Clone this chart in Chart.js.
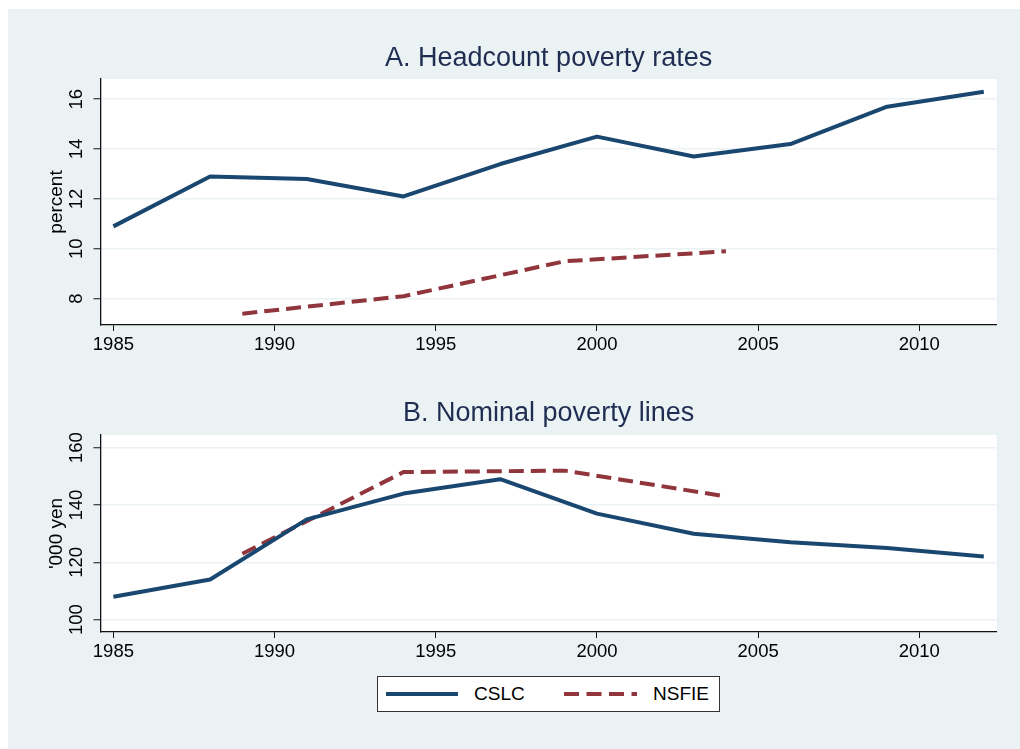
<!DOCTYPE html>
<html>
<head>
<meta charset="utf-8">
<script src="https://cdn.jsdelivr.net/npm/chart.js@4/dist/chart.umd.min.js"></script>
<style>
  body { margin: 0; background: #fff; font-family: "Liberation Sans", Arial, sans-serif; }
  #frame { position: absolute; left: 8px; top: 9px; right: 0; bottom: 0; background: #eaf2f3; }
  canvas { position: absolute; left: 0; }
  #chartA { top: 0; }
  #chartB { top: 370px; }
  #legend { position: absolute; left: 377px; top: 676px; width: 341px; height: 34px;
            background: #fff; border: 1px solid #333; }
  #legend .txt { position: absolute; top: 6px; font-size: 19px; color: #000; line-height: 22px; }
  #legend svg { position: absolute; left: 0; top: 0; }
</style>
</head>
<body>
<div id="frame"></div>
<canvas id="chartA" width="1020" height="365"></canvas>
<canvas id="chartB" width="1020" height="302"></canvas>
<div id="legend">
  <svg width="341" height="34">
    <line x1="8" y1="17" x2="80" y2="17" stroke="#1a476f" stroke-width="4"/>
    <line x1="186" y1="17" x2="259" y2="17" stroke="#90353b" stroke-width="4" stroke-dasharray="15 7.5"/>
  </svg>
  <span class="txt" style="left:96px">CSLC</span>
  <span class="txt" style="left:275px">NSFIE</span>
</div>
<script>
// survey years
const cslcYears = [1985, 1988, 1991, 1994, 1997, 2000, 2003, 2006, 2009, 2012];
const nsfieYears = [1989, 1994, 1999, 2004];

// A. headcount poverty rates (percent)
const cslcRate = [10.9, 12.9, 12.8, 12.1, 13.4, 14.5, 13.7, 14.2, 15.7, 16.3];
const nsfieRate = [7.4, 8.1, 9.5, 9.9];

// B. nominal poverty lines ('000 yen)
const cslcLine = [108, 114, 135, 144, 149, 137, 130, 127, 125, 122];
const nsfieLine = [123, 151.5, 152, 143];

const yearTicks = [1985, 1990, 1995, 2000, 2005, 2010];
const rateTicks = [8, 10, 12, 14, 16];
const lineTicks = [100, 120, 140, 160];

const NAVY = '#1a476f';
const MAROON = '#90353b';
const GRID = '#eaf2f3';
const FONT = '"Liberation Sans", Arial, sans-serif';

Chart.defaults.font.family = FONT;
Chart.defaults.color = '#000';

const pts = (xs, ys) => xs.map((x, i) => ({ x: x, y: ys[i] }));

// white plot region on the tinted page
const plotFill = {
  id: 'plotFill',
  beforeDraw(chart) {
    const a = chart.chartArea;
    chart.ctx.save();
    chart.ctx.fillStyle = '#fff';
    chart.ctx.fillRect(a.left, a.top, a.right - a.left, a.bottom - a.top);
    chart.ctx.restore();
  }
};

// stata style y labels, turned on their side
const sideTicks = {
  id: 'sideTicks',
  afterDraw(chart) {
    const s = chart.scales.y;
    const ctx = chart.ctx;
    ctx.save();
    ctx.font = '18.5px ' + FONT;
    ctx.fillStyle = '#000';
    ctx.textAlign = 'center';
    ctx.textBaseline = 'middle';
    s.ticks.forEach(t => {
      ctx.save();
      ctx.translate(76.5, s.getPixelForValue(t.value));
      ctx.rotate(-Math.PI / 2);
      ctx.fillText(String(t.value), 0, 0);
      ctx.restore();
    });
    ctx.restore();
  }
};

function makePanel(id, title, titlePad, yTitle, cslc, nsfie, yMin, yMax, yTicks) {
  return new Chart(document.getElementById(id), {
    type: 'line',
    data: {
      datasets: [
        {
          label: 'CSLC',
          data: pts(cslcYears, cslc),
          borderColor: NAVY,
          borderWidth: 4,
          borderJoinStyle: 'round',
          pointRadius: 0,
          tension: 0
        },
        {
          label: 'NSFIE',
          data: pts(nsfieYears, nsfie),
          borderColor: MAROON,
          borderWidth: 4,
          borderDash: [15, 7],
          pointRadius: 0,
          tension: 0
        }
      ]
    },
    options: {
      responsive: false,
      animation: false,
      layout: { padding: { left: 0, right: 23.3, top: 0, bottom: 0 } },
      plugins: {
        legend: { display: false },
        tooltip: { enabled: false },
        title: {
          display: true,
          fullSize: false,
          text: title,
          color: '#1f2d52',
          font: { size: 27, weight: 'normal', lineHeight: 1.2 },
          padding: titlePad
        }
      },
      scales: {
        x: {
          type: 'linear',
          min: 1984.6,
          max: 2012.4,
          afterBuildTicks: s => { s.ticks = yearTicks.map(v => ({ value: v })); },
          afterFit: s => { s.height = 40; },
          border: { color: '#111', width: 1.3 },
          grid: { drawOnChartArea: false, tickLength: 6, tickColor: '#111', tickWidth: 1 },
          ticks: { padding: 3, font: { size: 18.5 }, callback: v => String(v) }
        },
        y: {
          min: yMin,
          max: yMax,
          afterBuildTicks: s => { s.ticks = yTicks.map(v => ({ value: v })); },
          afterFit: s => { s.width = 100.5; },
          border: { color: '#111', width: 1.3 },
          grid: { color: GRID, lineWidth: 1.5, tickLength: 7, tickColor: '#111', tickWidth: 1 },
          ticks: { display: false },
          title: {
            display: true,
            text: yTitle,
            font: { size: 19, lineHeight: 1.2 },
            padding: { top: 45, bottom: 0 }
          }
        }
      }
    },
    plugins: [plotFill, sideTicks]
  });
}

makePanel('chartA', 'A. Headcount poverty rates', { top: 42.8, bottom: 3.8 },
  'percent', cslcRate, nsfieRate, 6.945, 16.81, rateTicks);
makePanel('chartB', 'B. Nominal poverty lines', { top: 27.8, bottom: 4.8 },
  "'000 yen", cslcLine, nsfieLine, 95.7, 164.43, lineTicks);
</script>
</body>
</html>
